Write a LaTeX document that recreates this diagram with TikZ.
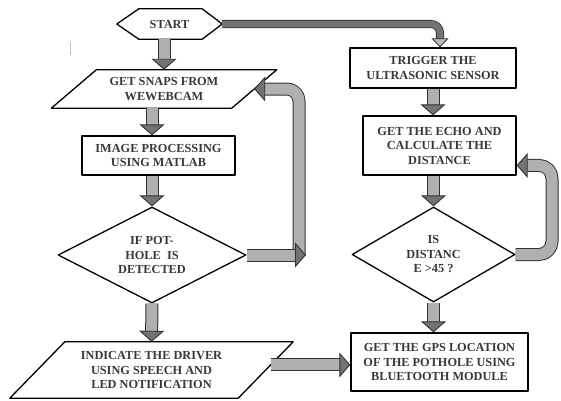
\documentclass[tikz,border=0pt]{standalone}
\usepackage{fontspec}
\setmainfont{Liberation Serif}
\usetikzlibrary{arrows.meta,shapes.geometric,calc}

\newcommand{\flowfont}{\fontsize{12.3}{14.5}\selectfont\bfseries}

\tikzset{
  flowtext/.style={inner sep=0pt, align=center, font=\flowfont, text=black!78},
  stepbox/.style={flowtext, draw, line width=1.3pt},
  decision/.style={flowtext, draw, line width=1.3pt, diamond, aspect=2},
  blockarrow/.style={line width=1pt, draw=black!80, double=gray!62, double distance=11pt,
    -{Triangle[length=11pt, width=25pt, line width=0.9pt, fill=black!55]}},
  thinarrow/.style={line width=0.8pt, draw=black!80, double=black!55, double distance=6.5pt,
    -{Triangle[length=9pt, width=17pt, line width=0.8pt, fill=gray!55]}}
}

\begin{document}
\begin{tikzpicture}[x=1pt,y=-1pt,line join=round]
        \useasboundingbox (0,0) rectangle (561,400);

        % draw the start
        \node[flowtext, minimum width=105pt, minimum height=30pt] (start) at (169.5,24) {START};
        \draw[line width=1.3pt] (start.west) -- ([xshift=22pt]start.north west)
            -- ([xshift=-20pt]start.north east) -- (start.east)
            -- ([xshift=-20pt]start.south east) -- ([xshift=22pt]start.south west) -- cycle;
        \draw[gray!50, line width=1pt] (70,42) -- (70,55);

        % draw the left column
        \node[flowtext, minimum width=180pt, minimum height=38pt] (snaps) at (164,89) {GET SNAPS FROM\\WEWEBCAM};
        \draw[line width=1.3pt] ([xshift=-22.5pt]snaps.south west) -- ([xshift=-22.5pt]snaps.south east)
            -- ([xshift=22.5pt]snaps.north east) -- ([xshift=22.5pt]snaps.north west) -- cycle;
        \node[stepbox, minimum width=153pt, minimum height=39pt] (proc) at (158.5,155.5) {IMAGE PROCESSING\\USING MATLAB};
        \node[decision, minimum width=188pt, minimum height=96pt] (dia1) at (152,255) {IF POT-\\HOLE\ \ IS\\DETECTED};
        \node[flowtext, minimum width=228pt, minimum height=56pt] (ind) at (151.5,370) {INDICATE THE DRIVER\\USING SPEECH AND\\LED NOTIFICATION};
        \draw[line width=1.3pt] ([xshift=-27.5pt]ind.south west) -- ([xshift=-27.5pt]ind.south east)
            -- ([xshift=27.5pt]ind.north east) -- ([xshift=27.5pt]ind.north west) -- cycle;

        % draw the right column
        \node[stepbox, minimum width=166pt, minimum height=40pt] (trigger) at (433,68) {TRIGGER THE\\ULTRASONIC SENSOR};
        \node[stepbox, minimum width=153pt, minimum height=59pt] (echo) at (439.5,145.5) {GET THE ECHO AND\\CALCULATE THE\\DISTANCE};
        \node[decision, minimum width=163pt, minimum height=95pt] (dia2) at (433.5,254.5) {IS\\DISTANC\\E >45 ?};
        \node[stepbox, minimum width=177pt, minimum height=58pt] (gps) at (439.5,362) {GET THE GPS LOCATION\\OF THE POTHOLE USING\\BLUETOOTH MODULE};

        % draw the straight arrows
        \foreach \a/\b in {start.south -| snaps/snaps.north, snaps.south -| dia1/proc.north -| dia1,
            proc.south -| dia1/dia1.north, dia1.south/ind.north, trigger.south/echo.north -| trigger,
            echo.south -| dia2/dia2.north, dia2.south/gps.north -| dia2}
                \draw[blockarrow] (\a) -- (\b);

        % draw the start branch
        \draw[thinarrow, rounded corners=9pt] (start.east) -| ([xshift=7pt]trigger.north);

        % draw the loops
        \coordinate (loopa) at (299,255);
        \coordinate (snapsin) at ($([xshift=22.5pt]snaps.north east)!0.5!([xshift=-22.5pt]snaps.south east)$);
        \draw[blockarrow, rounded corners=12pt] (loopa) |- (snapsin);
        \draw[blockarrow] (dia1.east) -- ([xshift=7pt]loopa);
        \coordinate (echoin) at ($(echo.south east)!0.17!(echo.north east)$);
        \coordinate (loopb) at (552,255);
        \draw[blockarrow, rounded corners=13pt] (dia2.east) -| (loopb |- echoin) -- (echoin);

        % draw the last arrow
        \coordinate (indout) at ($([xshift=27.5pt]ind.north east)!0.41!([xshift=-27.5pt]ind.south east)$);
        \draw[blockarrow] (indout) -- (indout -| gps.west);
\end{tikzpicture}
\end{document}
